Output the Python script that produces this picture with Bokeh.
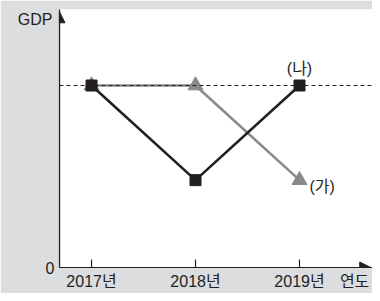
from bokeh.plotting import figure
from bokeh.models import (Range1d, FixedTicker, Span, Arrow, NormalHead,
                          ColumnDataSource, LinearAxis, Label)
from bokeh.embed import file_html
from bokeh.resources import INLINE

years = [2017, 2018, 2019]
tick_labels = {2017: "2017년", 2018: "2018년", 2019: "2019년"}
series_na = [100, 48, 100]   # (나) black squares
series_ga = [100, 100, 48]   # (가) gray triangles
ref_level = 100
x_axis_label = "연도"
x_axis_label_pos = 2019.53
y_axis_label = "GDP"
y_axis_label_pos = 136.3

FONT = "Liberation Sans, Noto Sans CJK KR"
GRAY_BG = "#dcdddf"
BLACK = "#231f20"
GRAY = "#8a8a8c"

p = figure(width=372, height=293, output_backend="svg", toolbar_location=None,
           x_range=Range1d(2016.692, 2019.702), y_range=Range1d(0, 141.76),
           min_border_left=59, min_border_right=0, min_border_top=9,
           min_border_bottom=26)
p.border_fill_color = GRAY_BG
p.background_fill_color = "white"
p.outline_line_color = None
p.grid.visible = False

xa = p.xaxis[0]
xa.ticker = FixedTicker(ticks=years + [x_axis_label_pos])
xa.major_label_overrides = {**tick_labels, x_axis_label_pos: x_axis_label}
xa.major_tick_in = 0
xa.major_tick_out = 0
xa.minor_tick_line_color = None
xa.major_tick_line_color = None
xa.axis_line_color = BLACK
xa.axis_line_width = 1.2
xa.major_label_text_font = FONT
xa.major_label_text_font_size = "16px"
xa.major_label_text_color = BLACK
xa.major_label_text_line_height = 1.0
xa.major_label_standoff = 5

ya = p.yaxis[0]
ya.ticker = FixedTicker(ticks=[0])
ya.major_tick_in = 0
ya.major_tick_out = 0
ya.minor_tick_line_color = None
ya.axis_line_color = BLACK
ya.axis_line_width = 1.2
ya.major_label_text_font = FONT
ya.major_label_text_font_size = "16px"
ya.major_label_text_color = BLACK
ya.major_label_standoff = 5

ya2 = LinearAxis(ticker=FixedTicker(ticks=[y_axis_label_pos]),
                 major_label_overrides={y_axis_label_pos: y_axis_label},
                 major_tick_in=0, major_tick_out=0, minor_tick_line_color=None,
                 axis_line_color=None, major_label_text_font=FONT,
                 major_label_text_font_size="16px", major_label_text_color=BLACK,
                 major_label_standoff=-10)
p.add_layout(ya2, "left")

# year tick marks (pointing into the plot)
p.segment(x0=years, y0=[0] * 3, x1=years, y1=[4.4] * 3,
          line_color=BLACK, line_width=1.2)

p.add_layout(Span(location=ref_level, dimension="width", line_color=BLACK,
                  line_width=1, line_dash="4 3"))

src_ga = ColumnDataSource(dict(x=years, y=series_ga))
src_na = ColumnDataSource(dict(x=years, y=series_na))
p.line("x", "y", source=src_ga, line_color=GRAY, line_width=2.6)
p.scatter("x", "y", source=src_ga, marker="triangle", size=15,
          fill_color=GRAY, line_color=GRAY)
p.line("x", "y", source=src_na, line_color=BLACK, line_width=2.6)
p.scatter("x", "y", source=src_na, marker="square", size=11,
          fill_color=BLACK, line_color=BLACK)

# axis arrows
p.add_layout(Arrow(end=NormalHead(size=11, fill_color=BLACK, line_color=BLACK),
                   x_start=2016.692, y_start=0, x_end=2019.685, y_end=0,
                   line_color=BLACK, line_width=1.2))
p.add_layout(Arrow(end=NormalHead(size=11, fill_color=BLACK, line_color=BLACK),
                   x_start=2016.692, y_start=0, x_end=2016.692, y_end=140.5,
                   line_color=BLACK, line_width=1.2))

p.add_layout(Label(x=years[2], y=series_na[2], text="(나)", text_font=FONT,
                   text_font_size="16px", text_color=BLACK, text_align="center",
                   text_baseline="bottom", y_offset=9))
p.add_layout(Label(x=years[2], y=series_ga[2], text="(가)", text_font=FONT,
                   text_font_size="16px", text_color=BLACK, text_align="left",
                   text_baseline="middle", x_offset=10, y_offset=-6))

open("out.html", "w").write(file_html(p, INLINE))
